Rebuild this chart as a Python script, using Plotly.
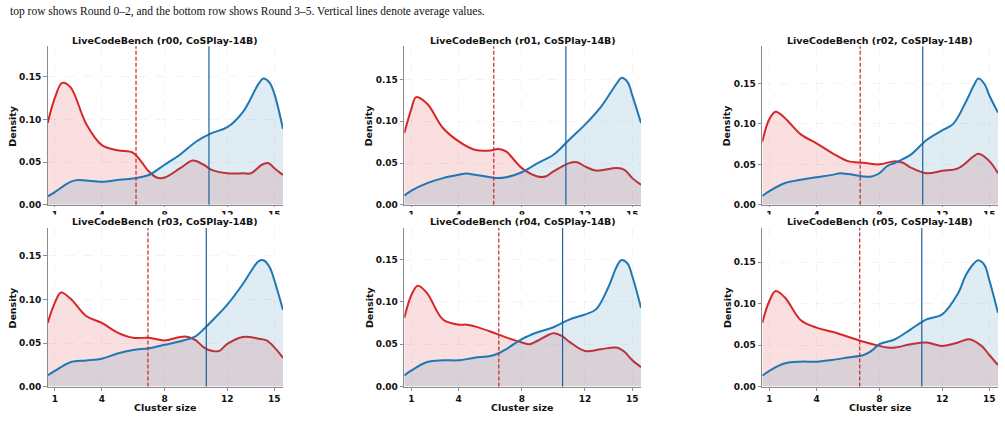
import plotly.graph_objects as go

# ---------------- data ----------------
ROUNDS = ["r00", "r01", "r02", "r03", "r04", "r05"]
MODEL = "CoSPlay-14B"
BENCH = "LiveCodeBench"
X_TICKS = [1, 4, 8, 12, 15]
Y_TICKS = [0.0, 0.05, 0.10, 0.15]

r00_red_x = [0.55, 1.0, 1.47, 2.0, 3.0, 4.0, 5.0, 6.0, 6.5, 7.0, 7.5, 8.0, 9.0, 9.8, 10.5, 11.0, 12.0, 13.0, 13.5, 14.2, 14.6, 15.0, 15.55]
r00_red_y = [0.096, 0.125, 0.143, 0.138, 0.095, 0.070, 0.064, 0.061, 0.051, 0.039, 0.032, 0.032, 0.043, 0.052, 0.047, 0.041, 0.037, 0.037, 0.037, 0.047, 0.049, 0.043, 0.035]
r00_blue_x = [0.55, 1.0, 2.0, 2.5, 3.0, 4.0, 5.0, 6.0, 7.0, 8.0, 9.0, 10.0, 11.0, 12.0, 13.0, 14.0, 14.3, 14.7, 15.0, 15.55]
r00_blue_y = [0.010, 0.015, 0.027, 0.029, 0.0285, 0.027, 0.029, 0.031, 0.035, 0.047, 0.059, 0.074, 0.084, 0.091, 0.109, 0.142, 0.148, 0.143, 0.130, 0.089]

r01_red_x = [0.55, 1.0, 1.3, 2.0, 3.0, 4.0, 5.0, 6.0, 6.5, 7.0, 7.5, 8.0, 9.0, 9.5, 10.0, 11.0, 11.5, 12.0, 12.7, 14.0, 14.5, 15.0, 15.55]
r01_red_y = [0.086, 0.115, 0.129, 0.121, 0.092, 0.076, 0.066, 0.065, 0.067, 0.064, 0.054, 0.044, 0.034, 0.034, 0.040, 0.050, 0.051, 0.046, 0.041, 0.044, 0.042, 0.032, 0.024]
r01_blue_x = [0.55, 1.0, 2.0, 3.0, 4.0, 4.5, 5.0, 6.0, 6.5, 7.0, 8.0, 9.0, 10.0, 11.0, 12.0, 13.0, 14.0, 14.3, 14.7, 15.0, 15.55]
r01_blue_y = [0.011, 0.017, 0.026, 0.032, 0.036, 0.0375, 0.036, 0.033, 0.032, 0.033, 0.039, 0.050, 0.060, 0.078, 0.096, 0.117, 0.145, 0.152, 0.147, 0.131, 0.098]

r02_red_x = [0.55, 1.0, 1.4, 2.0, 3.0, 4.0, 5.0, 6.0, 7.0, 8.0, 9.0, 9.5, 10.0, 11.0, 12.0, 13.0, 14.0, 14.3, 15.0, 15.55]
r02_red_y = [0.078, 0.106, 0.115, 0.107, 0.087, 0.076, 0.064, 0.054, 0.052, 0.050, 0.054, 0.052, 0.046, 0.039, 0.042, 0.045, 0.060, 0.063, 0.054, 0.039]
r02_blue_x = [0.55, 1.0, 2.0, 3.0, 4.0, 5.0, 5.5, 6.0, 7.0, 7.5, 8.0, 8.5, 9.0, 10.0, 11.0, 12.0, 12.7, 13.5, 14.0, 14.3, 14.7, 15.0, 15.55]
r02_blue_y = [0.011, 0.017, 0.027, 0.031, 0.034, 0.037, 0.039, 0.038, 0.035, 0.035, 0.039, 0.048, 0.052, 0.062, 0.080, 0.092, 0.100, 0.127, 0.147, 0.156, 0.149, 0.135, 0.114]

r03_red_x = [0.55, 1.0, 1.4, 2.0, 3.0, 4.0, 5.0, 6.0, 7.0, 8.0, 9.0, 9.5, 10.0, 10.5, 11.0, 11.5, 12.0, 13.0, 14.0, 14.5, 15.0, 15.55]
r03_red_y = [0.073, 0.096, 0.108, 0.101, 0.081, 0.073, 0.062, 0.056, 0.056, 0.053, 0.057, 0.057, 0.053, 0.045, 0.041, 0.041, 0.049, 0.057, 0.055, 0.053, 0.045, 0.033]
r03_blue_x = [0.55, 1.0, 2.0, 3.0, 4.0, 5.0, 6.0, 7.0, 8.0, 9.0, 10.0, 10.5, 11.0, 12.0, 13.0, 13.5, 14.0, 14.3, 14.7, 15.0, 15.55]
r03_blue_y = [0.013, 0.018, 0.028, 0.030, 0.032, 0.038, 0.042, 0.044, 0.048, 0.052, 0.058, 0.066, 0.075, 0.094, 0.118, 0.132, 0.144, 0.145, 0.137, 0.122, 0.088]

r04_red_x = [0.55, 1.0, 1.4, 2.0, 3.0, 4.0, 4.5, 5.0, 6.0, 7.0, 8.0, 8.5, 9.0, 10.0, 10.5, 11.0, 12.0, 13.0, 14.0, 14.5, 15.0, 15.55]
r04_red_y = [0.081, 0.108, 0.119, 0.110, 0.079, 0.073, 0.073, 0.071, 0.065, 0.058, 0.052, 0.050, 0.054, 0.063, 0.060, 0.053, 0.042, 0.044, 0.046, 0.041, 0.031, 0.023]
r04_blue_x = [0.55, 1.0, 2.0, 3.0, 4.0, 5.0, 6.0, 6.5, 7.0, 8.0, 9.0, 10.0, 11.0, 12.0, 12.7, 13.5, 14.0, 14.3, 14.7, 15.0, 15.55]
r04_blue_y = [0.013, 0.019, 0.029, 0.031, 0.031, 0.034, 0.036, 0.039, 0.044, 0.056, 0.064, 0.070, 0.079, 0.085, 0.091, 0.118, 0.141, 0.149, 0.145, 0.130, 0.093]

r05_red_x = [0.55, 1.0, 1.4, 2.0, 3.0, 4.0, 5.0, 6.0, 7.0, 8.0, 8.5, 9.0, 10.0, 11.0, 12.0, 13.0, 13.7, 14.5, 15.0, 15.55]
r05_red_y = [0.077, 0.103, 0.115, 0.107, 0.080, 0.071, 0.066, 0.060, 0.054, 0.049, 0.047, 0.047, 0.051, 0.053, 0.049, 0.053, 0.057, 0.049, 0.038, 0.026]
r05_blue_x = [0.55, 1.0, 2.0, 3.0, 4.0, 5.0, 6.0, 7.0, 7.5, 8.0, 9.0, 10.0, 11.0, 12.0, 13.0, 13.5, 14.0, 14.3, 14.7, 15.0, 15.55]
r05_blue_y = [0.013, 0.019, 0.028, 0.030, 0.030, 0.032, 0.035, 0.038, 0.043, 0.051, 0.057, 0.069, 0.081, 0.087, 0.112, 0.134, 0.148, 0.152, 0.146, 0.128, 0.089]

red_means = [6.18, 6.22, 6.78, 6.94, 6.54, 6.75]
blue_means = [10.83, 10.79, 10.76, 10.66, 10.58, 10.70]

RED_X = [r00_red_x, r01_red_x, r02_red_x, r03_red_x, r04_red_x, r05_red_x]
RED_Y = [r00_red_y, r01_red_y, r02_red_y, r03_red_y, r04_red_y, r05_red_y]
BLUE_X = [r00_blue_x, r01_blue_x, r02_blue_x, r03_blue_x, r04_blue_x, r05_blue_x]
BLUE_Y = [r00_blue_y, r01_blue_y, r02_blue_y, r03_blue_y, r04_blue_y, r05_blue_y]

# ---------------- layout / style ----------------
W, H = 1005, 423
X_RANGE = [0.55, 15.55]
Y_TOPS = [0.186, 0.190, 0.196, 0.182, 0.187, 0.191]
COL_PX = [(47.7, 283.0), (404.3, 641.0), (762.3, 998.0)]
ROW_PX = [(46.7, 207.3), (230.7, 391.2)]

RED = "#d62728"
BLUE = "#1f77b4"
FONT = "DejaVu Sans"
SPINE = "#8c8c8c"


def px_x(p):
    return p / W


def px_y(p):
    return 1 - p / H


fig = go.Figure()
annotations = []
shapes = []

for i, rnd in enumerate(ROUNDS):
    row, col = divmod(i, 3)
    n = "" if i == 0 else str(i + 1)
    xa, ya = "x" + n, "y" + n
    x0, x1 = COL_PX[col]
    t0, t1 = ROW_PX[row]

    fig.add_trace(go.Scatter(
        x=RED_X[i], y=RED_Y[i], mode="lines", line=dict(color=RED, width=2, shape="spline", smoothing=1.0),
        fill="tozeroy", fillcolor="rgba(214,39,40,0.15)", xaxis=xa, yaxis=ya, showlegend=False, hoverinfo="skip"))
    fig.add_trace(go.Scatter(
        x=BLUE_X[i], y=BLUE_Y[i], mode="lines", line=dict(color=BLUE, width=2, shape="spline", smoothing=1.0),
        fill="tozeroy", fillcolor="rgba(31,119,180,0.14)", xaxis=xa, yaxis=ya, showlegend=False, hoverinfo="skip"))

    axis_common = dict(
        showline=True, linecolor=SPINE, linewidth=1.3, mirror=False,
        ticks="outside", ticklen=3.5, tickwidth=1, tickcolor=SPINE,
        tickfont=dict(family=FONT, size=9, color="#111111", weight="bold"),
        showgrid=True, gridcolor="rgba(0,0,0,0.045)", griddash="dash", gridwidth=0.8,
        zeroline=False, fixedrange=True,
    )
    fig.layout["xaxis" + n] = dict(
        axis_common, domain=[px_x(x0), px_x(x1)], range=X_RANGE,
        tickmode="array", tickvals=X_TICKS, ticktext=[str(v) for v in X_TICKS],
        anchor=ya, ticklen=(1 if row == 0 else 3.5),
    )
    fig.layout["yaxis" + n] = dict(
        axis_common, domain=[px_y(t1), px_y(t0)], range=[0, Y_TOPS[i]],
        tickmode="array", tickvals=Y_TICKS, tickformat=".2f",
        anchor=xa,
    )

    # mean lines
    shapes.append(dict(type="line", xref=xa, yref=ya + " domain", x0=red_means[i], x1=red_means[i],
                       y0=0, y1=1, line=dict(color="#c0262a", width=1.2, dash="4px,2px"), layer="above"))
    shapes.append(dict(type="line", xref=xa, yref=ya + " domain", x0=blue_means[i], x1=blue_means[i],
                       y0=0, y1=1, line=dict(color="#1b5f98", width=1.2), layer="above"))

    cx = px_x((x0 + x1) / 2)
    # subplot title
    annotations.append(dict(text=f"{BENCH} ({rnd}, {MODEL})", x=cx, y=px_y(t0 - (6 if row == 0 else 7)),
                            xref="paper", yref="paper",
                            xanchor="center", yanchor="middle", showarrow=False,
                            font=dict(family=FONT, size=9.5, color="#111111", weight="bold")))
    # y title
    annotations.append(dict(text="Density", x=px_x(x0 - 35.5), y=px_y((t0 + t1) / 2), xref="paper", yref="paper",
                            xanchor="center", yanchor="middle", textangle=-90, showarrow=False,
                            font=dict(family=FONT, size=9.5, color="#111111", weight="bold")))
    if row == 1:
        annotations.append(dict(text="Cluster size", x=cx, y=px_y(t1 + 21.3), xref="paper", yref="paper",
                                xanchor="center", yanchor="middle", showarrow=False,
                                font=dict(family=FONT, size=9.5, color="#111111", weight="bold")))

# white strip that hides the lower half of the top row tick labels (stacked-figure crop)
shapes.append(dict(type="rect", xref="paper", yref="paper", x0=0, x1=1, y0=px_y(230.5), y1=px_y(217.0),
                   fillcolor="white", line=dict(width=0), layer="above"))

# caption line
annotations.append(dict(
    text="top row shows Round 0\u20132, and the bottom row shows Round 3\u20135. Vertical lines denote average values.",
    x=px_x(8), y=px_y(11.5), xref="paper", yref="paper", xanchor="left", yanchor="middle", showarrow=False,
    font=dict(family="Liberation Serif", size=11.5, color="#111111")))

fig.update_layout(
    width=W, height=H, margin=dict(l=0, r=0, t=0, b=0),
    paper_bgcolor="white", plot_bgcolor="white",
    annotations=annotations, shapes=shapes, showlegend=False,
)

fig.write_html("out.html", config={"displayModeBar": False})
